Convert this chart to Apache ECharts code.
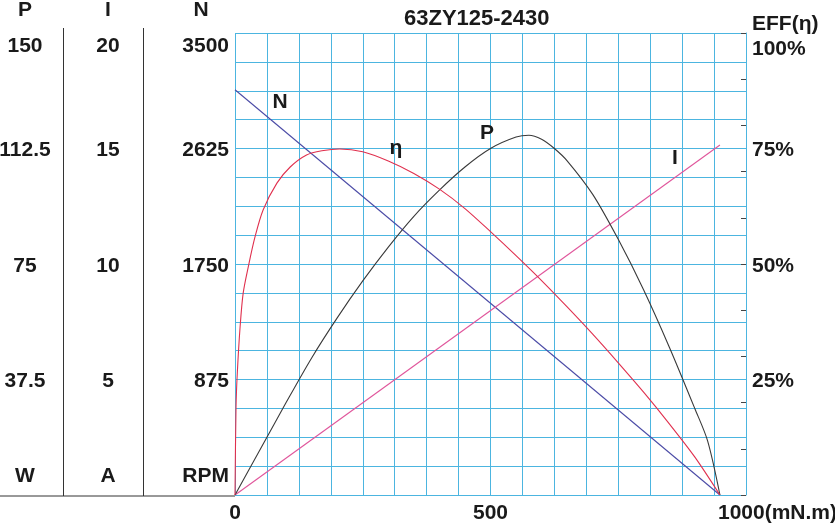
<!DOCTYPE html>
<html><head><meta charset="utf-8">
<script src="https://cdn.jsdelivr.net/npm/echarts@6/dist/echarts.min.js"></script>
<style>html,body{margin:0;padding:0;background:#fff}#c{width:835px;height:523px}</style>
</head><body><div id="c"></div>
<script>
// ---- data ----
const torqueN = [0, 949];
const speedN = [3070, 0];

const torqueI = [0, 949];
const currentI = [0, 15.15];

const torqueP = [0, 50, 100, 150, 200, 250, 300, 350, 400, 450, 500, 550, 575, 600, 625, 650, 700, 750, 800, 850, 900, 925, 949];
const powerP  = [0, 15, 30, 44.5, 57.5, 69.5, 80.5, 90.5, 99, 106.5, 112.5, 116.2, 116.8, 115.5, 112.5, 108.5, 97.6, 83, 66.5, 48, 28, 17.5, 0];

const torqueEff = [0, 2, 4.5, 10, 16, 26, 39, 55, 82, 108, 140, 170, 205, 250, 300, 350, 400, 450, 500, 550, 600, 650, 700, 750, 800, 850, 900, 949];
const effValues = [0, 19, 26.4, 36.4, 43.7, 49.4, 55.8, 61.7, 67.5, 71, 73.6, 74.5, 74.9, 74.3, 72.3, 69.6, 66.2, 62.0, 57.0, 51.8, 46.4, 40.7, 34.8, 28.6, 22.2, 15.4, 8.2, 0];

// tick labels
const xLabels = {0: '0', 500: '500', 1000: '1000(mN.m)'};
const pLabels = ['W', '37.5', '75', '112.5', '150'];
const iLabels = ['A', '5', '10', '15', '20'];
const nLabels = ['RPM', '875', '1750', '2625', '3500'];
const effLabels = ['', '25%', '50%', '75%', '100%'];

const curveNames = {N: [88, 2977], eta: [315, 75.1], P: [493, 117.5], I: [861, 14.6]};

const title = '63ZY125-2430';
// ---------------------------------------

const FONT = "'Liberation Sans', Arial, sans-serif";
const TXT = '#1a1a1a';
const GRIDC = '#4cb5e0';
const baseText = {fontFamily: FONT, fontSize: 21, fontWeight: 'bold', color: TXT};
const rich = {
  top: Object.assign({}, baseText, {padding: [26, 0, 0, 0]}),
  effTop: Object.assign({}, baseText, {padding: [33, 0, 0, 0]}),
  unit: Object.assign({}, baseText, {padding: [0, 0, 37, 0]}),
  mid: Object.assign({}, baseText, {padding: [4, 0, 0, 0]}),
  end: Object.assign({}, baseText, {padding: [0, 0, 0, 63]})
};
function leftFmt(arr) {
  return function (v, idx) {
    const i = Math.round(idx);
    if (i === 0) return '{unit|' + arr[0] + '}';
    if (i === arr.length - 1) return '{top|' + arr[i] + '}';
    return '{mid|' + arr[i] + '}';
  };
}

function pairs(xs, ys) { return xs.map((x, i) => [x, ys[i]]); }

const chart = echarts.init(document.getElementById('c'), null, {renderer: 'canvas'});

function nameMark(key, text) {
  return {
    symbol: 'circle', symbolSize: 1, silent: true,
    itemStyle: {color: 'rgba(0,0,0,0)'},
    label: Object.assign({show: true, position: 'inside', formatter: text}, baseText),
    data: [{coord: curveNames[key]}]
  };
}

chart.setOption({
  animation: false,
  backgroundColor: '#ffffff',
  title: {
    text: title, left: 404, top: 8, padding: 0,
    textStyle: {fontFamily: FONT, fontSize: 22, fontWeight: 'bold', color: TXT}
  },
  grid: {left: 235, top: 33, right: 89, bottom: 28, containLabel: false, outerBoundsMode: 'none'},
  xAxis: {
    type: 'value', min: 0, max: 1000, interval: 62.5,
    axisLine: {show: false}, axisTick: {show: false},
    splitLine: {show: true, lineStyle: {color: GRIDC, width: 1}},
    axisLabel: {
      show: true, margin: 8, ...baseText,
      formatter: function (v) {
        if (v === 1000) return '{end|' + xLabels[1000] + '}';
        return xLabels[v] !== undefined ? xLabels[v] : '';
      },
      rich: rich
    }
  },
  yAxis: [
    { // 0: grid lines
      type: 'value', min: 0, max: 16, interval: 1, position: 'left',
      axisLine: {show: false}, axisTick: {show: false}, axisLabel: {show: false},
      splitLine: {show: true, lineStyle: {color: GRIDC, width: 1}}
    },
    { // 1: N (RPM)
      type: 'value', min: 0, max: 3500, interval: 875, position: 'left', offset: 0,
      axisLine: {show: false}, axisTick: {show: false}, splitLine: {show: false},
      axisLabel: {show: true, margin: 6, ...baseText, formatter: leftFmt(nLabels), rich: rich}
    },
    { // 2: I (A)
      type: 'value', min: 0, max: 20, interval: 5, position: 'left', offset: 91.5,
      axisLine: {show: false}, axisTick: {show: false}, splitLine: {show: false},
      axisLabel: {show: true, margin: 35.5, align: 'center', ...baseText, formatter: leftFmt(iLabels), rich: rich}
    },
    { // 3: P (W)
      type: 'value', min: 0, max: 150, interval: 37.5, position: 'left', offset: 171.5,
      axisLine: {show: false}, axisTick: {show: false}, splitLine: {show: false},
      axisLabel: {show: true, margin: 38.5, align: 'center', ...baseText, formatter: leftFmt(pLabels), rich: rich}
    },
    { // 4: efficiency labels
      type: 'value', min: 0, max: 100, interval: 25, position: 'right', offset: 0,
      axisLine: {show: false}, axisTick: {show: false}, splitLine: {show: false},
      axisLabel: {
        show: true, margin: 6, ...baseText, rich: rich,
        formatter: function (v, idx) {
          const i = Math.round(idx);
          if (i === effLabels.length - 1) return '{effTop|' + effLabels[i] + '}';
          return '{mid|' + effLabels[i] + '}';
        }
      }
    },
    { // 5: efficiency minor ticks
      type: 'value', min: 0, max: 100, interval: 10, position: 'right', offset: 0,
      axisLine: {show: true, lineStyle: {color: GRIDC, width: 1}},
      axisTick: {show: true, inside: true, length: 5, lineStyle: {color: '#444', width: 1}},
      axisLabel: {show: false}, splitLine: {show: false}
    }
  ],
  graphic: [
    {type: 'line', shape: {x1: 63.5, y1: 28, x2: 63.5, y2: 496}, style: {stroke: '#333', lineWidth: 1}, silent: true},
    {type: 'line', shape: {x1: 143.5, y1: 28, x2: 143.5, y2: 496}, style: {stroke: '#333', lineWidth: 1}, silent: true},
    {type: 'line', shape: {x1: 0, y1: 496, x2: 235, y2: 496}, style: {stroke: '#333', lineWidth: 1}, silent: true},
    {type: 'text', x: 25, y: 10, style: {text: 'P', font: "bold 21px " + FONT, fill: TXT, align: 'center', verticalAlign: 'middle'}},
    {type: 'text', x: 108, y: 10, style: {text: 'I', font: "bold 21px " + FONT, fill: TXT, align: 'center', verticalAlign: 'middle'}},
    {type: 'text', x: 201, y: 10, style: {text: 'N', font: "bold 21px " + FONT, fill: TXT, align: 'center', verticalAlign: 'middle'}},
    {type: 'text', x: 752, y: 24, style: {text: 'EFF(η)', font: "bold 21px " + FONT, fill: TXT, align: 'left', verticalAlign: 'middle'}}
  ],
  series: [
    {
      name: 'N', type: 'line', xAxisIndex: 0, yAxisIndex: 1, data: pairs(torqueN, speedN),
      showSymbol: false, lineStyle: {color: '#4b4ba6', width: 1.1}, z: 3,
      markPoint: nameMark('N', 'N')
    },
    {
      name: 'I', type: 'line', xAxisIndex: 0, yAxisIndex: 2, data: pairs(torqueI, currentI),
      showSymbol: false, lineStyle: {color: '#e0559b', width: 1.1}, z: 3,
      markPoint: nameMark('I', 'I')
    },
    {
      name: 'P', type: 'line', xAxisIndex: 0, yAxisIndex: 3, data: pairs(torqueP, powerP),
      showSymbol: false, smooth: 0.3, lineStyle: {color: '#3a3a3a', width: 1.1}, z: 3,
      markPoint: nameMark('P', 'P')
    },
    {
      name: 'η', type: 'line', xAxisIndex: 0, yAxisIndex: 4, data: pairs(torqueEff, effValues),
      showSymbol: false, smooth: 0.3, lineStyle: {color: '#e0304e', width: 1.1}, z: 3,
      markPoint: nameMark('eta', 'η')
    }
  ]
});
</script>
</body></html>
